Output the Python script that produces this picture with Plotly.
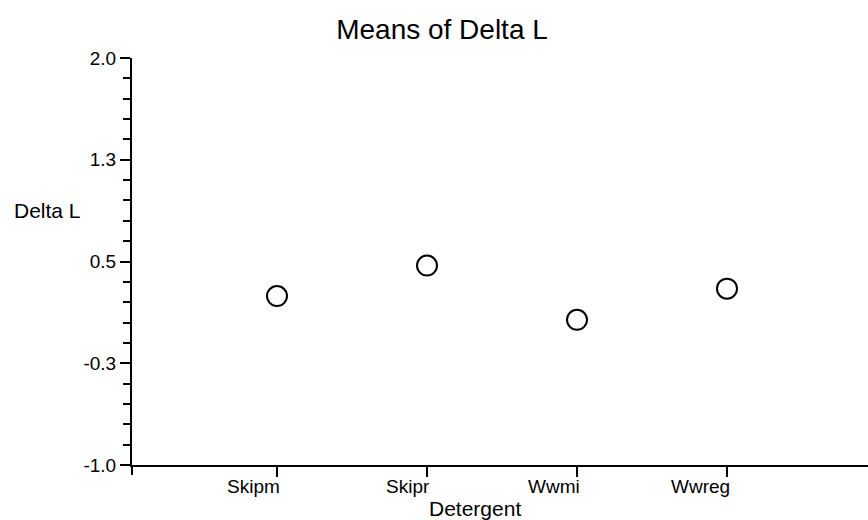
import numpy as np
import plotly.graph_objects as go

categories = ["Skipm", "Skipr", "Wwmi", "Wwreg"]
means = [0.245, 0.47, 0.07, 0.30]
ytick_vals = [-1.0, -0.25, 0.5, 1.25, 2.0]
ytick_text = ["-1.0", "-0.3", "0.5", "1.3", "2.0"]

xpos = list(range(len(categories)))

fig = go.Figure()
fig.add_trace(go.Scatter(
    x=xpos, y=means, mode="markers",
    marker=dict(symbol="circle-open", size=20, color="black", line=dict(width=2, color="black")),
    showlegend=False,
))

W, H = 868, 520
ml, mr, mt, mb = 132, 0, 58, 55
pw = W - ml - mr
ph = H - mt - mb
spacing = 150.0
x0 = -(277 - ml) / spacing
xr = [x0, x0 + pw / spacing]

annotations = [
    dict(text="Delta L", xref="paper", yref="paper",
         x=(12 - ml) / pw, y=(H - mb - 210) / ph,
         xanchor="left", yanchor="middle", showarrow=False,
         font=dict(size=21)),
    dict(text="Detergent", xref="paper", yref="paper",
         x=(475 - ml) / pw, y=-(508 - (H - mb)) / ph,
         xanchor="center", yanchor="middle", showarrow=False,
         font=dict(size=21)),
]
# category labels, right-aligned at their ticks as in the reference
for xv, lab in zip(xpos, categories):
    annotations.append(dict(text=lab, xref="x", yref="paper",
                            x=xv, y=-(487 - (H - mb)) / ph,
                            xanchor="right", yanchor="middle", showarrow=False,
                            xshift=5, font=dict(size=19)))

fig.update_layout(
    width=W, height=H,
    margin=dict(l=ml, r=mr, t=mt, b=mb),
    paper_bgcolor="white", plot_bgcolor="white",
    font=dict(family="Liberation Sans, Arial, sans-serif", size=19, color="black"),
    title=dict(text="Means of Delta L", x=442 / W, xanchor="center",
               y=1 - 29 / H, yanchor="middle", yref="container",
               font=dict(size=28, color="black")),
    xaxis=dict(
        range=xr,
        tickmode="array", tickvals=xpos, ticktext=categories,
        showticklabels=False,
        showgrid=False, zeroline=False,
        showline=True, linecolor="black", linewidth=2,
        ticks="outside", ticklen=10, tickwidth=1.5, tickcolor="black",
    ),
    yaxis=dict(
        range=[-1.0, 2.0],
        tickmode="array", tickvals=ytick_vals, ticktext=ytick_text,
        showgrid=False, zeroline=False,
        showline=True, linecolor="black", linewidth=2,
        ticks="outside", ticklen=10, tickwidth=1.5, tickcolor="black",
        tickfont=dict(size=19),
        minor=dict(tickmode="array",
                   tickvals=list(np.round(np.arange(-1.0, 2.0001, 0.15), 3)),
                   ticks="outside", ticklen=7, tickwidth=1.5, tickcolor="black",
                   showgrid=False),
    ),
    annotations=annotations,
    shapes=[
        dict(type="line", xref="paper", yref="paper",
             x0=0, x1=0, y0=0, y1=-10 / ph,
             line=dict(color="black", width=2)),
    ],
)

fig.write_html("out.html")
